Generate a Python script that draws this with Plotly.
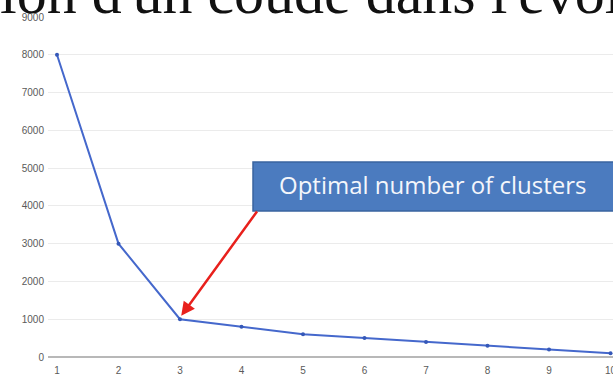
import plotly.graph_objects as go

# Elbow curve: inertia versus number of clusters
clusters = [1, 2, 3, 4, 5, 6, 7, 8, 9, 10]
inertia = [8000, 3000, 1000, 800, 600, 500, 400, 300, 200, 100]
y_ticks = [0, 1000, 2000, 3000, 4000, 5000, 6000, 7000, 8000, 9000]

callout_text = "Optimal number of clusters"
heading_text = "ion d'un coude dans l'évolution"

elbow_k = 3
elbow_value = inertia[clusters.index(elbow_k)]

fig = go.Figure()
fig.add_trace(go.Scatter(
    x=clusters, y=inertia, mode="lines+markers",
    line=dict(color="#4568cc", width=2),
    marker=dict(color="#3558b8", size=4),
    hoverinfo="x+y", showlegend=False,
))

W, H = 613, 375
L, R, T, B = 48, 0, 17, 18
pw, ph = W - L - R, H - T - B

def px(x):
    return (x - L) / pw

def py(y):
    return (H - B - y) / ph

tick_font = dict(family="Arial, Liberation Sans", size=10, color="#5a5a5a")

fig.update_layout(
    width=W, height=H,
    margin=dict(l=L, r=R, t=T, b=B),
    paper_bgcolor="white", plot_bgcolor="white",
    xaxis=dict(range=[0.854, 10.04], tickmode="array", tickvals=clusters,
               ticktext=[str(c) for c in clusters], showgrid=False,
               zeroline=False, showline=False, ticks="", automargin=False,
               ticklabeloverflow="allow", ticklabelstandoff=6,
               tickfont=tick_font),
    yaxis=dict(range=[0, 9000], tickmode="array", tickvals=y_ticks,
               ticktext=[str(v) for v in y_ticks], showgrid=True,
               gridcolor="#ebebeb", gridwidth=1, zeroline=True,
               zerolinecolor="#b8b8b8", zerolinewidth=1.5, showline=False,
               ticks="", ticklabelstandoff=3, ticklabeloverflow="allow",
               automargin=False, tickfont=tick_font),
)

# Callout box
fig.add_shape(type="rect", xref="paper", yref="paper",
              x0=px(253), x1=px(625), y0=py(211), y1=py(162),
              fillcolor="#4b7bbf", line=dict(color="#3a64a0", width=1.5),
              layer="above")
fig.add_annotation(xref="paper", yref="paper", x=px(277), y=py(184),
                   xanchor="left", yanchor="middle", showarrow=False,
                   text=callout_text,
                   font=dict(family="Open Sans, Lato", size=24, color="#f4f6fb"))

# Red arrow pointing at the elbow
fig.add_annotation(x=elbow_k + 0.02, y=elbow_value + 90, xref="x", yref="y",
                   ax=4.27, ay=3890, axref="x", ayref="y",
                   showarrow=True, arrowhead=2, arrowsize=1.1,
                   arrowwidth=2.5, arrowcolor="#e8201c", text="")

# Heading text clipped at the top edge
fig.add_annotation(xref="paper", yref="paper", x=px(-2), y=py(13),
                   xanchor="left", yanchor="bottom", showarrow=False,
                   text=heading_text, yshift=-15,
                   font=dict(family="Liberation Serif, Times New Roman", size=60, color="#111"))

fig.write_html("out.html")
